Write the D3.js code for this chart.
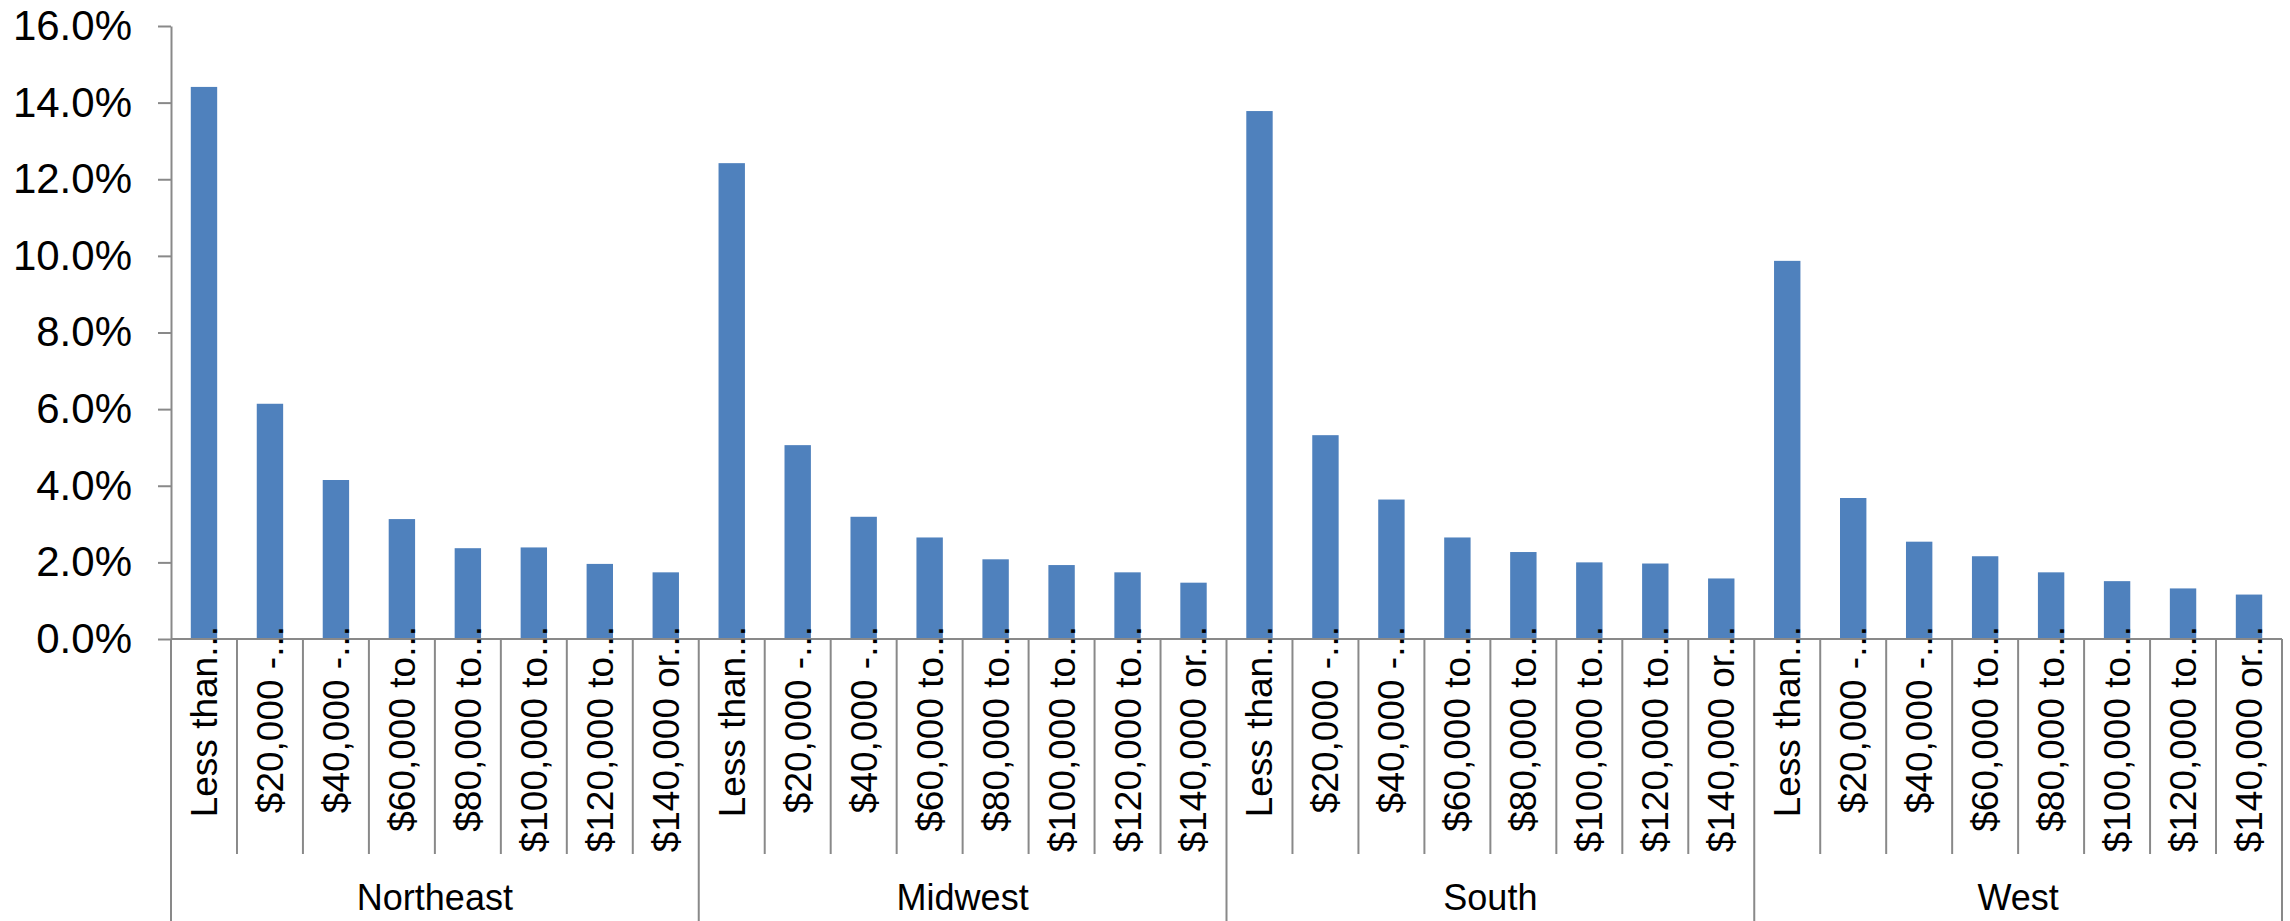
<!DOCTYPE html>
<html>
<head>
<meta charset="utf-8">
<script src="https://cdn.jsdelivr.net/npm/d3@7"></script>
<style>
  html, body { margin: 0; padding: 0; background: #fff; }
  svg { display: block; }
  text { font-family: "Liberation Sans", Arial, Helvetica, sans-serif; fill: #000; }
</style>
</head>
<body>
<svg id="chart" width="2290" height="921"></svg>
<script>
// Share of households by income band, grouped by census region
const regions = ["Northeast", "Midwest", "South", "West"];
const incomeBands = [
  "Less than...",
  "$20,000 -...",
  "$40,000 -...",
  "$60,000 to...",
  "$80,000 to...",
  "$100,000 to...",
  "$120,000 to...",
  "$140,000 or..."
];
const northeast = [0.1441, 0.0614, 0.0415, 0.0313, 0.0237, 0.0239, 0.0196, 0.0174];
const midwest   = [0.1242, 0.0506, 0.0319, 0.0265, 0.0208, 0.0193, 0.0174, 0.0147];
const south     = [0.1378, 0.0532, 0.0364, 0.0265, 0.0227, 0.0200, 0.0197, 0.0158];
const west      = [0.0987, 0.0368, 0.0254, 0.0216, 0.0174, 0.0151, 0.0132, 0.0116];
const yTicks = [0, 0.02, 0.04, 0.06, 0.08, 0.10, 0.12, 0.14, 0.16];

const seriesByRegion = [northeast, midwest, south, west];

const rows = [];
regions.forEach((r, gi) => {
  incomeBands.forEach((b, bi) => {
    rows.push({ region: r, band: b, key: r + "|" + bi, value: seriesByRegion[gi][bi] });
  });
});

const svg = d3.select("#chart");
const plotLeft = 171, plotRight = 2282, plotTop = 26, baseY = 639;
const bandBottom = 854, groupBottom = 921;
const axisColor = "#898989";

const x = d3.scaleBand()
  .domain(rows.map(d => d.key))
  .range([plotLeft, plotRight])
  .paddingInner(0.6)
  .paddingOuter(0.3);

const y = d3.scaleLinear().domain([0, 0.16]).range([baseY, plotTop]);

// bars
svg.append("g")
  .selectAll("rect")
  .data(rows)
  .join("rect")
  .attr("x", d => x(d.key))
  .attr("width", x.bandwidth())
  .attr("y", d => y(d.value))
  .attr("height", d => y(0) - y(d.value))
  .attr("fill", "#4F81BD");

// value axis
const yAxis = svg.append("g")
  .attr("transform", `translate(${plotLeft},0)`)
  .call(d3.axisLeft(y)
    .tickValues(yTicks)
    .tickFormat(d3.format(".1%"))
    .tickSize(13)
    .tickSizeOuter(0)
    .tickPadding(26));
yAxis.select(".domain").attr("stroke", axisColor).attr("stroke-width", 2);
yAxis.selectAll(".tick line").attr("stroke", axisColor).attr("stroke-width", 2);
yAxis.selectAll(".tick text")
  .attr("font-size", 42)
  .attr("fill", "#000")
  .style("font-family", '"Liberation Sans", Arial, sans-serif');

// category axis baseline
svg.append("line")
  .attr("x1", plotLeft).attr("x2", plotRight)
  .attr("y1", baseY).attr("y2", baseY)
  .attr("stroke", axisColor).attr("stroke-width", 2);

const step = x.step();
const nPer = incomeBands.length;
const boundary = i => plotLeft + i * step;

// dividers between income bands and between regions
const dividers = d3.range(rows.length + 1).map(i => ({ i, group: i % nPer === 0 }));
svg.append("g")
  .selectAll("line")
  .data(dividers)
  .join("line")
  .attr("x1", d => boundary(d.i))
  .attr("x2", d => boundary(d.i))
  .attr("y1", baseY)
  .attr("y2", d => d.group ? groupBottom : bandBottom)
  .attr("stroke", axisColor)
  .attr("stroke-width", 2);

// rotated income band labels
svg.append("g")
  .selectAll("text")
  .data(rows)
  .join("text")
  .attr("transform", d => `translate(${x(d.key) + x.bandwidth() / 2},626) rotate(-90)`)
  .attr("text-anchor", "end")
  .attr("dy", "0.35em")
  .attr("font-size", 37)
  .text(d => d.band);

// region labels
svg.append("g")
  .selectAll("text")
  .data(regions)
  .join("text")
  .attr("x", (d, gi) => (boundary(gi * nPer) + boundary((gi + 1) * nPer)) / 2)
  .attr("y", 910)
  .attr("text-anchor", "middle")
  .attr("font-size", 36)
  .text(d => d);
</script>
</body>
</html>
